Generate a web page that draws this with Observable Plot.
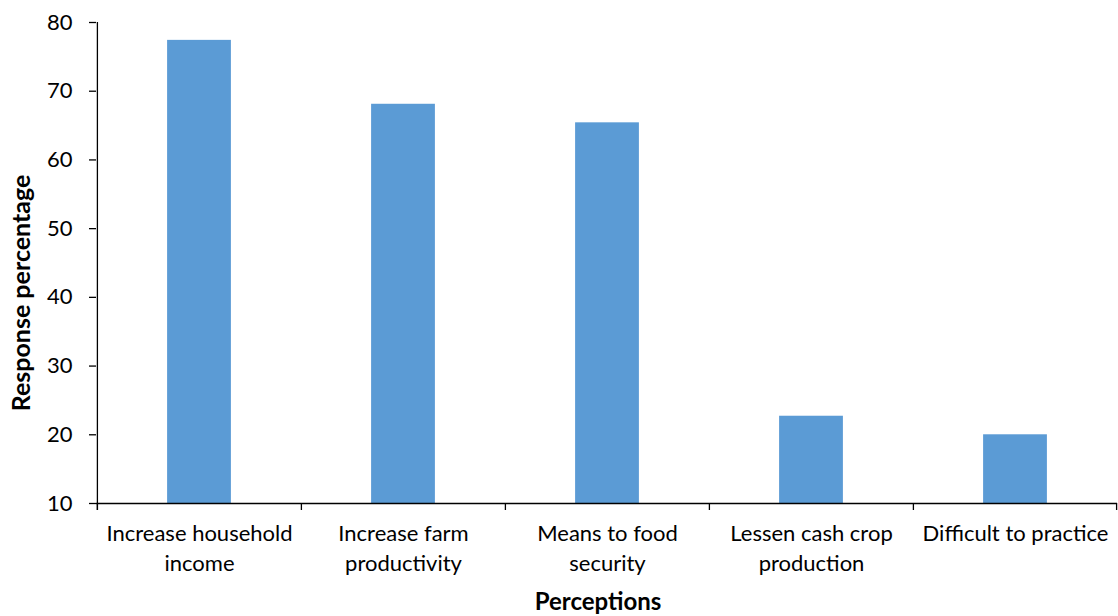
<!DOCTYPE html>
<html>
<head>
<meta charset="utf-8">
<script src="https://cdn.jsdelivr.net/npm/d3@7"></script>
<script src="https://cdn.jsdelivr.net/npm/@observablehq/plot@0.6"></script>
<style>
  html, body { margin: 0; padding: 0; background: #fff; }
  #chart svg { font-family: Lato, "Open Sans", sans-serif; }
</style>
</head>
<body>
<div id="chart"></div>
<script>
const categories = [
  "Increase household\nincome",
  "Increase farm\nproductivity",
  "Means to food\nsecurity",
  "Lessen cash crop\nproduction",
  "Difficult to practice"
];
const values = [77.4, 68.1, 65.4, 22.7, 20.0];
const yTicks = [10, 20, 30, 40, 50, 60, 70, 80];
const xTitle = "Perceptions";
const yTitle = "Response percentage";

const data = categories.map((c, i) => ({category: c, value: values[i]}));

const W = 1118, H = 616;
const mL = 96, mR = 1, mT = 22, mB = 113;
const bw = (W - mL - mR) / categories.length;
const barW = 64;
const pxPerUnit = (H - mT - mB) / 70;
const tickBottom = 10 - 7 / pxPerUnit;

const chart = Plot.plot({
  width: W,
  height: H,
  marginLeft: mL,
  marginRight: mR,
  marginTop: mT,
  marginBottom: mB,
  style: {fontSize: "22px", color: "#000", background: "#fff"},
  x: {domain: categories, padding: 0},
  y: {domain: [10, 80]},
  marks: [
    Plot.barY(data, {x: "category", y1: 10, y2: "value", fill: "#5B9BD5", insetLeft: (bw - barW) / 2, insetRight: (bw - barW) / 2}),
    Plot.ruleY([10], {stroke: "#000", strokeWidth: 1.3}),
    Plot.ruleX([categories[0]], {x: d => d, y1: tickBottom, y2: 80, dx: -bw / 2, stroke: "#000", strokeWidth: 1.3}),
    Plot.ruleX(categories, {x: d => d, y1: tickBottom, y2: 10, dx: -bw / 2, stroke: "#000", strokeWidth: 1.3}),
    Plot.ruleX([categories[categories.length - 1]], {x: d => d, y1: tickBottom, y2: 10, dx: bw / 2 - 1, stroke: "#000", strokeWidth: 1.3}),
    Plot.axisY({ticks: yTicks, tickSize: 7, tickPadding: 17, stroke: "#000", strokeWidth: 1.3, label: null}),
    Plot.axisX({tickSize: 0, tickPadding: 16, lineHeight: 1.36, label: null}),
    Plot.text([yTitle], {frameAnchor: "left", textAnchor: "middle", lineAnchor: "middle", rotate: -90, dx: -75, dy: 30, fontWeight: "bold", fontSize: 25, fill: "#000"}),
    Plot.text([xTitle], {frameAnchor: "bottom", textAnchor: "middle", lineAnchor: "middle", dx: -9, dy: 99, fontWeight: "bold", fontSize: 24, fill: "#000"})
  ]
});
document.getElementById("chart").appendChild(chart);
</script>
</body>
</html>
